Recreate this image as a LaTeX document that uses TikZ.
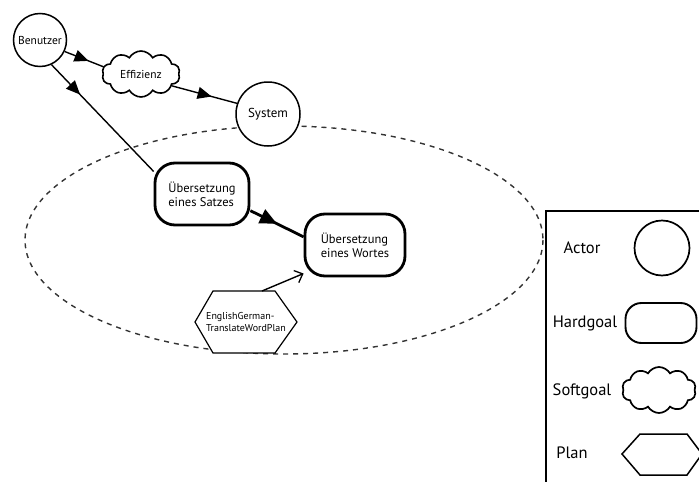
\documentclass[tikz,border=0pt]{standalone}
\usepackage{fontspec}
\setmainfont{PT Sans}
\usetikzlibrary{shapes.symbols, decorations.markings, arrows.meta}

\begin{document}
\begin{tikzpicture}[x=1pt, y=-1pt,
  actor/.style={circle, draw, line width=1.5pt, fill=white, inner sep=0pt},
  hardgoal/.style={rectangle, rounded corners=20pt, draw, line width=2.8pt,
    fill=white, align=left, inner sep=0pt},
  softgoal/.style={cloud, cloud puffs=10, cloud puff arc=120, cloud ignores aspect,
    draw, line width=1.6pt, fill=white, inner sep=0pt},
  planshape/.style={draw, line width=1.2pt, fill=white},
  boundary/.style={dashed, dash pattern=on 5pt off 5pt, line width=1.4pt, black!80},
  link/.style={line width=1.4pt},
  midtip/.style={postaction={decorate, decoration={markings,
    mark=at position #1 with {\arrow{Triangle[length=14pt, width=12pt]}}}}},
  bigtip/.style={postaction={decorate, decoration={markings,
    mark=at position #1 with {\arrow{Triangle[length=17pt, width=15pt]}}}}},
  small/.style={font=\fontsize{11.5}{13}\selectfont},
  mid/.style={font=\fontsize{12.5}{14}\selectfont},
  sysfont/.style={font=\fontsize{13}{15}\selectfont},
  tiny/.style={font=\fontsize{10}{12}\selectfont},
  legend/.style={font=\fontsize{16.5}{19}\selectfont},
]
\useasboundingbox (0,0) rectangle (699,482);
\clip (0,0) rectangle (699,482);

% system boundary
\draw[boundary] (284,240) ellipse [x radius=259, y radius=114];

% actors and goals
\node[actor, minimum size=53pt, small] (ben) at (40,40) {Benutzer};
\node[softgoal, minimum width=78pt, minimum height=46pt, small] (eff) at (141,74) {Effizienz};
\node[actor, minimum size=64pt, sysfont] (sys) at (268,114) {System};
\node[hardgoal, minimum width=94pt, minimum height=62pt, mid] (sat) at (202,194)
  {Übersetzung\\eines Satzes};
\node[hardgoal, minimum width=100pt, minimum height=62pt, mid] (wor) at (355,245)
  {Übersetzung\\eines Wortes};

% plan hexagon
\draw[planshape] (195,322) -- (213,291) -- (275,291) -- (297,322)
  -- (275,353) -- (213,353) -- cycle;
\node[tiny, align=left] (plan) at (246,322) {EnglishGerman-\\TranslateWordPlan};
\coordinate (planTop) at (262,291);

% connectors
\draw[link, midtip=0.62] (ben.-25) -- (eff.169);
\draw[link, midtip=0.61] (eff.-21) -- (sys.161);
\draw[link, midtip=0.28] (ben.-65) -- (sat.155);
\draw[line width=2.8pt, bigtip=0.5] (sat.-19) -- (wor.171);
\draw[link, -{Straight Barb[length=7pt, width=13pt, line width=1.3pt]}] (planTop) -- (wor.209);

% legend
\draw[line width=1.6pt] (546,211) rectangle (730,510);
\node[legend] (lgActorText) at (582,248) {Actor};
\node[actor, minimum size=55pt, line width=1.7pt] (lgActor) at (662,248) {};
\node[legend] (lgHardText) at (585,323) {Hardgoal};
\node[hardgoal, rounded corners=16pt, line width=1.9pt, minimum width=71pt, minimum height=40pt]
  (lgHard) at (661,323) {};
\node[legend] (lgSoftText) at (582,391) {Softgoal};
\node[softgoal, minimum width=74pt, minimum height=46pt, line width=1.7pt] (lgSoft) at (659,390) {};
\node[legend] (lgPlanText) at (572,453) {Plan};
\draw[planshape, line width=1.5pt] (622,454) -- (640,434) -- (687,434) -- (702,454)
  -- (687,475) -- (640,475) -- cycle;
\coordinate (lgPlan) at (662,454);
\end{tikzpicture}
\end{document}
